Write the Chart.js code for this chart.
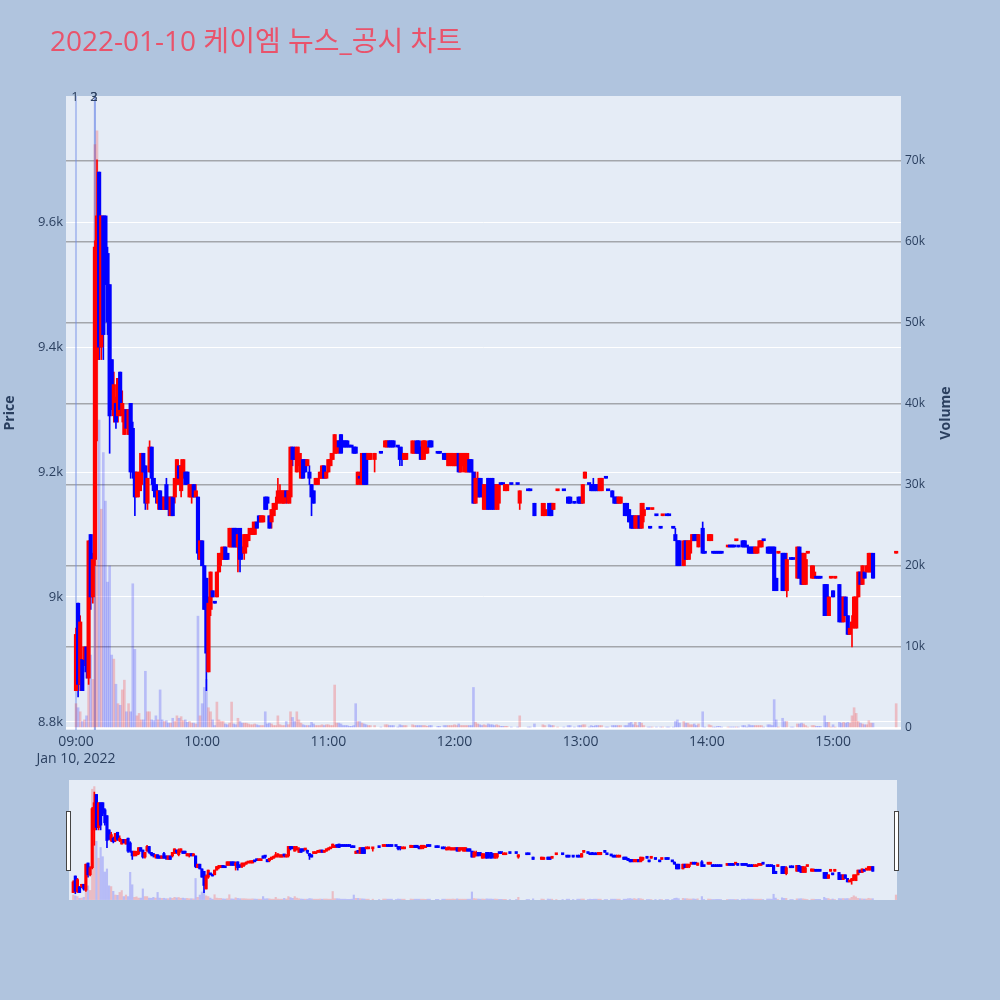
<!DOCTYPE html>
<html>
<head>
<meta charset="utf-8">
<script src="https://cdn.jsdelivr.net/npm/chart.js@4.4.1/dist/chart.umd.min.js"></script>
<style>
  body { margin: 0; background: #b0c4de; }
  #main { position: absolute; left: 0; top: 0; }
  #slider { position: absolute; left: 0; top: 780px; }
</style>
</head>
<body>
<canvas id="main" width="1000" height="780"></canvas>
<canvas id="slider" width="1000" height="120"></canvas>
<script>
// minutes since 09:00 that have a trade
const minutes = [
  0,1,2,3,4,5,6,7,8,9, 10,11,12,13,14,15,16,17,18,19,
  20,21,22,23,24,25,26,27,28,29, 30,31,32,33,34,35,36,37,38,39,
  40,41,42,43,44,45,46,47,48,49, 50,51,52,53,54,55,56,57,58,59,
  60,61,62,63,64,65,66,67,68,69, 70,71,72,73,74,75,76,77,78,79,
  80,81,82,83,84,85,86,87,88,89, 90,91,92,93,94,95,96,97,98,99,
  100,101,102,103,104,105,106,107,108,109, 110,111,112,113,114,115,116,117,118,119,
  120,121,122,123,124,125,126,127,128,129, 130,131,132,133,134,135,136,137,138,139,140,
  142,145,147,148,149,150,151,153,154,155, 156,157,160,161,162,163,164,165,166,167,
  168,169,172,173,175,176,177,178,179,180, 181,182,183,184,185,186,187,188,189,190,
  191,192,193,194,195,196,197,198,199,200, 201,202,203,204,205,207,210,211,215,216,
  218,222,223,225,226,227,229,232,234,235, 237,239,240,241,242,244,245,246,247,248,
  249,250,252,253,255,256,257,258,259,261, 262,263,264,265,266,267,268,269,270,
  272,273,274,276,278,279,281,282,284,285, 286,287,289,290,291,292,293,294,295,296,
  298,299,301,302,303,304,305,306,307,310, 311,312,313,314,315,317,318,319,320,321,
  322,323,324,325,326,327,329,330,331,332, 333,334,336,337,338,340,341,343,344,345,
  346,347,348,350,351,352,353,354,356,357, 358,359,360,361,363,364,365,366,367,368,
  369,370,371,372,373,374,375,376,377,378, 379,390
];
const opens = [
  8850,8990,8860,8900,8900,8920,8870,9100,9000,9060, 9380,9680,9400,9610,9610,9550,9500,9380,9290,9310,
  9290,9360,9290,9260,9300,9260,9310,9270,9200,9160, 9170,9180,9230,9210,9150,9200,9240,9190,9180,9150,
  9170,9160,9140,9180,9160,9130,9160,9160,9180,9210, 9170,9200,9200,9200,9160,9160,9180,9160,9160,9060,
  9090,9050,9030,8880,8980,9010,8990,9000,9040,9060, 9060,9080,9070,9080,9080,9110,9110,9080,9110,9080,
  9070,9080,9090,9100,9100,9100,9120,9130,9120,9120, 9160,9160,9130,9120,9130,9140,9150,9160,9150,9150,
  9170,9150,9160,9240,9230,9200,9210,9190,9220,9220, 9210,9200,9180,9170,9180,9180,9190,9190,9210,9190,
  9200,9210,9220,9230,9230,9250,9260,9250,9250,9250, 9240,9240,9240,9240,9180,9190,9180,9230,9230,9220,9220,
  9220,9230,9240,9240,9250,9250,9250,9240,9240,9230, 9220,9220,9230,9230,9250,9250,9240,9220,9230,9230,
  9250,9250,9230,9230,9230,9230,9210,9220,9210,9210, 9210,9230,9200,9210,9200,9200,9220,9220,9200,9150,
  9160,9190,9180,9140,9150,9190,9180,9190,9180,9140, 9150,9180,9180,9170,9170,9180,9180,9150,9170,9170,
  9150,9130,9130,9150,9150,9140,9170,9170,9160,9160, 9150,9160,9160,9150,9190,9180,9180,9180,9180,9180,
  9170,9170,9190,9170,9170,9160,9160,9150,9150,9150, 9150,9140,9130,9130,9110,9110,9130,9110,9130,
  9140,9110,9140,9130,9110,9130,9130,9130,9110,9100, 9090,9090,9050,9090,9060,9070,9090,9100,9100,9080,
  9110,9070,9090,9090,9070,9070,9070,9070,9070,9080, 9080,9080,9080,9090,9080,9090,9090,9080,9080,9080,
  9080,9070,9070,9080,9080,9090,9080,9080,9080,9080, 9030,9070,9070,9070,9010,9060,9060,9030,9080,9070,
  9020,9020,9070,9030,9030,9030,9030,9030,9020,9020, 8970,9030,9010,9030,9020,9000,8960,9000,8970,8940,
  8950,8960,8950,9000,9040,9020,9040,9040,9040,9040, 9070,9070
];
const highs = [
  8950,8990,8970,8900,8920,8920,9090,9100,9070,9570, 9700,9680,9610,9610,9610,9560,9500,9380,9360,9320,
  9350,9360,9330,9300,9300,9300,9310,9280,9200,9200, 9200,9230,9230,9210,9190,9250,9240,9190,9180,9170,
  9170,9160,9160,9190,9160,9160,9160,9190,9220,9210, 9220,9220,9200,9200,9180,9180,9180,9180,9160,9090,
  9090,9050,9030,9000,9040,9010,8990,9040,9070,9080, 9080,9080,9070,9110,9110,9110,9110,9110,9110,9080,
  9100,9100,9110,9110,9120,9120,9120,9130,9130,9130, 9160,9160,9130,9140,9150,9160,9190,9180,9170,9170,
  9170,9170,9240,9240,9240,9240,9240,9230,9220,9220, 9220,9210,9180,9170,9190,9190,9200,9210,9210,9200,
  9220,9230,9230,9260,9250,9250,9260,9250,9250,9250, 9240,9240,9240,9240,9200,9200,9230,9230,9230,9230,9230,
  9230,9230,9250,9250,9250,9250,9250,9240,9240,9240, 9230,9230,9250,9250,9250,9250,9240,9250,9250,9240,
  9250,9250,9230,9230,9230,9230,9230,9230,9230,9230, 9230,9230,9230,9230,9230,9230,9220,9220,9200,9200,
  9200,9190,9190,9180,9180,9190,9190,9190,9180,9180, 9180,9180,9180,9180,9180,9180,9180,9170,9170,9170,
  9150,9150,9150,9150,9150,9150,9170,9170,9160,9160, 9150,9160,9160,9180,9200,9180,9180,9190,9180,9180,
  9190,9190,9190,9170,9170,9160,9160,9160,9160,9150, 9150,9140,9130,9130,9130,9130,9130,9150,9150,
  9140,9110,9140,9130,9110,9130,9130,9130,9110,9110, 9090,9090,9090,9090,9090,9090,9100,9100,9100,9100,
  9120,9070,9100,9100,9070,9070,9070,9070,9070,9080, 9080,9080,9080,9090,9080,9090,9090,9080,9080,9080,
  9080,9080,9080,9090,9090,9090,9080,9080,9080,9080, 9030,9070,9070,9070,9070,9060,9060,9080,9080,9070,
  9070,9070,9070,9050,9050,9030,9030,9030,9020,9020, 9000,9030,9010,9030,9020,9000,9000,9000,8970,8950,
  8970,9000,9000,9040,9040,9050,9040,9050,9070,9070, 9070,9070
];
const lows = [
  8850,8840,8850,8850,8890,8870,8860,8980,8990,9050, 9250,9380,9380,9380,9500,9420,9230,9300,9280,9270,
  9280,9290,9280,9260,9270,9260,9190,9190,9130,9160, 9160,9170,9200,9140,9140,9200,9180,9160,9150,9140,
  9140,9140,9140,9140,9130,9130,9130,9150,9180,9180, 9160,9190,9180,9180,9160,9150,9160,9160,9060,9060,
  9050,8980,8850,8880,8970,9000,8990,9000,9040,9050, 9060,9060,9060,9080,9080,9080,9080,9040,9040,9060,
  9060,9070,9090,9100,9100,9100,9110,9120,9120,9120, 9140,9140,9110,9110,9130,9140,9150,9150,9150,9150,
  9150,9150,9150,9210,9220,9200,9210,9190,9190,9200, 9210,9180,9130,9150,9180,9180,9190,9190,9190,9190,
  9200,9210,9220,9230,9230,9230,9230,9240,9240,9240, 9240,9240,9230,9230,9180,9180,9180,9180,9180,9220,9220,
  9200,9230,9240,9240,9240,9240,9240,9240,9210,9210, 9220,9220,9230,9230,9230,9230,9220,9220,9220,9230,
  9240,9240,9230,9230,9220,9220,9210,9210,9210,9210, 9210,9200,9200,9210,9200,9200,9200,9200,9150,9150,
  9160,9160,9160,9140,9140,9140,9140,9140,9140,9140, 9140,9180,9180,9170,9170,9180,9180,9140,9170,9170,
  9130,9130,9130,9130,9130,9140,9170,9170,9150,9150, 9150,9150,9150,9150,9190,9180,9170,9170,9170,9170,
  9170,9170,9190,9170,9160,9150,9150,9150,9150,9130, 9130,9120,9110,9110,9110,9110,9110,9110,9120,
  9140,9110,9140,9130,9110,9130,9130,9130,9110,9090, 9050,9050,9050,9060,9060,9060,9090,9090,9090,9080,
  9070,9070,9090,9090,9070,9070,9070,9070,9070,9080, 9080,9080,9080,9090,9080,9080,9080,9080,9070,9070,
  9070,9070,9070,9080,9080,9090,9070,9070,9070,9010, 9010,9070,9010,9010,9000,9060,9060,9030,9030,9020,
  9020,9020,9070,9030,9030,9030,9030,9030,8970,8970, 8970,9030,9000,9030,8960,8960,8960,8970,8940,8940,
  8920,8950,8950,9000,9020,9020,9030,9040,9040,9040, 9030,9070
];
const closes = [
  8940,8860,8960,8850,8920,8880,9090,9000,9060,9560, 9610,9400,9610,9420,9520,9440,9290,9300,9340,9280,
  9350,9300,9310,9300,9270,9300,9200,9200,9160,9200, 9190,9230,9200,9150,9190,9240,9190,9170,9160,9170,
  9140,9140,9160,9140,9140,9160,9130,9190,9220,9190, 9210,9220,9180,9180,9180,9170,9160,9170,9070,9090,
  9050,8980,8910,8990,9040,9000,8990,9040,9070,9070, 9080,9060,9060,9110,9110,9080,9080,9100,9060,9070,
  9100,9100,9100,9110,9110,9120,9110,9120,9130,9130, 9140,9150,9110,9140,9150,9150,9170,9170,9170,9170,
  9160,9170,9240,9220,9220,9240,9230,9220,9190,9200, 9220,9190,9160,9150,9190,9190,9200,9210,9190,9200,
  9220,9220,9230,9260,9250,9240,9230,9240,9240,9240, 9240,9240,9230,9230,9200,9190,9230,9180,9180,9230,9230,
  9230,9230,9250,9250,9240,9240,9240,9240,9220,9220, 9230,9230,9250,9240,9230,9230,9220,9250,9250,9240,
  9240,9240,9230,9230,9220,9220,9230,9230,9230,9220, 9230,9200,9230,9230,9230,9230,9200,9200,9150,9190,
  9190,9160,9170,9180,9170,9140,9150,9140,9150,9180, 9180,9180,9180,9180,9180,9180,9180,9170,9170,9170,
  9130,9150,9140,9130,9130,9150,9170,9170,9150,9150, 9150,9150,9150,9180,9200,9180,9170,9170,9170,9170,
  9190,9190,9190,9170,9160,9150,9150,9160,9160,9130, 9130,9120,9110,9110,9130,9130,9110,9150,9140,
  9140,9110,9140,9130,9110,9130,9130,9130,9110,9090, 9050,9050,9090,9060,9090,9090,9100,9090,9090,9100,
  9070,9070,9100,9100,9070,9070,9070,9070,9070,9080, 9080,9080,9080,9090,9080,9080,9080,9080,9070,9070,
  9070,9080,9080,9090,9090,9090,9070,9070,9070,9010, 9010,9070,9010,9010,9060,9060,9060,9080,9030,9020,
  9070,9060,9070,9050,9040,9030,9030,9030,8970,8970, 9000,9030,9000,9030,8960,8960,9000,8970,8940,8950,
  8960,9000,9000,9040,9020,9050,9030,9050,9070,9070, 9030,9070
];
const volumes = [
  3000,2500,2000,800,1000,1500,14000,9000,6000,72000, 73700,38000,27000,34000,28000,18000,20000,9000,8500,5400,
  3000,2800,4700,5900,2000,3000,2000,17800,9700,1500, 1800,1000,1000,7000,2000,2000,1000,900,1500,1000,
  4700,1000,800,900,600,600,1200,800,1500,1200, 1400,900,1000,700,800,600,600,500,13800,1500,
  3000,5000,6000,2500,2000,1000,300,3200,1000,800, 800,500,400,600,3200,500,400,1200,800,600,
  600,600,500,400,400,500,400,300,300,300, 2000,500,600,500,300,300,1500,400,300,300,
  800,400,2000,1300,800,2000,1000,600,400,300, 300,300,700,500,300,300,300,400,300,400,
  400,300,300,5300,600,600,500,300,300,300, 200,200,300,3000,800,800,600,500,400,300,300,
  300,100,400,400,300,300,300,100,400,300, 300,300,400,300,300,300,300,300,300,200,
  300,300,200,200,300,300,300,300,300,400, 300,500,300,300,300,300,300,300,5000,700,
  500,400,300,400,300,500,400,400,300,400, 300,200,200,200,200,100,100,1500,100,100,
  500,400,300,400,300,300,100,100,300,300, 100,300,300,400,400,100,300,200,300,300,
  300,300,100,100,300,300,300,300,300,300, 300,600,700,400,700,300,700,600,300,
  100,100,100,100,100,100,100,100,100,800, 1000,600,800,600,600,400,400,500,300,500,
  2000,100,400,300,100,100,200,200,100,100, 100,100,100,100,100,300,300,100,400,300,
  300,300,300,300,300,100,400,400,300,3500, 1000,100,1200,800,800,100,100,500,500,600,
  500,300,100,300,300,200,200,200,1500,700, 700,100,400,100,700,600,700,600,700,600,
  1500,2500,1800,800,600,500,400,400,900,600, 600,3000
];

const hourTicks = [0, 60, 120, 180, 240, 300, 360];
const hourLabels = ['09:00', '10:00', '11:00', '12:00', '13:00', '14:00', '15:00'];
const dateLabel = 'Jan 10, 2022';
const priceTicks = [8800, 9000, 9200, 9400, 9600];
const priceLabels = ['8.8k', '9k', '9.2k', '9.4k', '9.6k'];
const volTicks = [0, 10000, 20000, 30000, 40000, 50000, 60000, 70000];
const volLabels = ['0', '10k', '20k', '30k', '40k', '50k', '60k', '70k'];
const eventMinutes = [0, 9, 9];
const eventLabels = ['1', '2', '3'];
const titleText = '2022-01-10 케이엠 뉴스_공시 차트';

const UP = '#ff0000', DOWN = '#0000ff';
const UP_VOL = 'rgba(255,0,0,0.2)', DOWN_VOL = 'rgba(0,0,255,0.2)';
const TXT = '#2a3f5f';
const FONT = "'Open Sans', 'Noto Sans CJK KR', sans-serif";

// 시가=종가 인 봉은 직전 종가와 비교해서 색을 정함
const isUp = closes.map((c, i) => c > opens[i] || (c === opens[i] && i > 0 && c > closes[i - 1]));

function buildSets(bodyW, wickW, volW) {
  return [
    {
      data: minutes.map((m, i) => ({ x: m, y: [Math.min(opens[i], closes[i]), Math.max(opens[i], closes[i])] })),
      backgroundColor: minutes.map((m, i) => isUp[i] ? UP : DOWN),
      barThickness: bodyW, minBarLength: 2, grouped: false, yAxisID: 'y', order: 0
    },
    {
      data: minutes.map((m, i) => ({ x: m, y: [lows[i], highs[i]] })),
      backgroundColor: minutes.map((m, i) => isUp[i] ? UP : DOWN),
      barThickness: wickW, grouped: false, yAxisID: 'y', order: 1
    },
    {
      data: minutes.map((m, i) => ({ x: m, y: volumes[i] })),
      backgroundColor: minutes.map((m, i) => isUp[i] ? UP_VOL : DOWN_VOL),
      barThickness: volW, grouped: false, yAxisID: 'yVol', order: 2
    }
  ];
}

const plotBg = {
  id: 'plotBg',
  beforeDraw(chart) {
    const { ctx, chartArea: a } = chart;
    ctx.save();
    ctx.fillStyle = '#e5ecf6';
    ctx.fillRect(a.left, a.top, a.right - a.left, a.bottom - a.top);
    ctx.restore();
  }
};

const titleAndVolume = {
  id: 'titleAndVolume',
  afterDraw(chart) {
    const { ctx, chartArea: a } = chart;
    ctx.save();
    ctx.fillStyle = '#e9536b';
    ctx.font = '28px ' + FONT;
    ctx.textBaseline = 'alphabetic';
    ctx.textAlign = 'left';
    ctx.fillText(titleText, 50, 51);
    // 오른쪽 축 제목 (아래에서 위로)
    const s = chart.scales.yVol;
    ctx.translate(s.right - 10, (a.top + a.bottom) / 2);
    ctx.rotate(-Math.PI / 2);
    ctx.fillStyle = TXT;
    ctx.font = 'bold 14px ' + FONT;
    ctx.textAlign = 'center';
    ctx.textBaseline = 'middle';
    ctx.fillText('Volume', 0, 0);
    ctx.restore();
  }
};

const eventLines = {
  id: 'eventLines',
  beforeDatasetsDraw(chart) {
    const { ctx, chartArea: a, scales } = chart;
    ctx.save();
    ctx.strokeStyle = 'rgba(110,140,230,0.45)';
    ctx.lineWidth = 2;
    eventMinutes.forEach(m => {
      const x = scales.x.getPixelForValue(m);
      ctx.beginPath();
      ctx.moveTo(x, a.top);
      ctx.lineTo(x, a.bottom);
      ctx.stroke();
    });
    ctx.restore();
  },
  afterDatasetsDraw(chart) {
    const { ctx, chartArea: a, scales } = chart;
    ctx.save();
    ctx.fillStyle = TXT;
    ctx.font = '13px ' + FONT;
    ctx.textAlign = 'center';
    ctx.textBaseline = 'middle';
    eventMinutes.forEach((m, i) => {
      ctx.fillText(eventLabels[i], scales.x.getPixelForValue(m) - 1, a.top + 1);
    });
    ctx.restore();
  }
};

const handles = {
  id: 'handles',
  afterDraw(chart) {
    const { ctx, chartArea: a } = chart;
    ctx.save();
    ctx.fillStyle = '#ffffff';
    ctx.strokeStyle = '#444444';
    ctx.lineWidth = 1;
    [a.left - 2.5, a.right - 2.5].forEach(x => {
      ctx.fillRect(x, a.top + 31.5, 4, 59);
      ctx.strokeRect(x, a.top + 31.5, 4, 59);
    });
    ctx.restore();
  }
};

new Chart(document.getElementById('main'), {
  type: 'bar',
  data: { datasets: buildSets(3.5, 1, 2) },
  options: {
    responsive: false,
    animation: false,
    devicePixelRatio: 1,
    events: [],
    layout: { padding: { top: 96, right: 44, bottom: 10, left: 0 } },
    plugins: { legend: { display: false }, tooltip: { enabled: false } },
    scales: {
      x: {
        type: 'linear', min: -4.75, max: 392.3, offset: false,
        grid: { display: false, drawTicks: false },
        border: { display: false },
        afterBuildTicks: s => { s.ticks = hourTicks.map(v => ({ value: v })); },
        afterFit: s => { s.height = 40; },
        ticks: {
          color: TXT, font: { family: FONT, size: 14 }, padding: 4, maxRotation: 0,
          callback: (v, i) => i === 0 ? [hourLabels[i], dateLabel] : hourLabels[i]
        }
      },
      y: {
        position: 'left', min: 8787, max: 9802,
        grid: { color: '#ffffff', lineWidth: 1, drawTicks: false },
        border: { display: false },
        afterBuildTicks: s => { s.ticks = priceTicks.map(v => ({ value: v })); },
        afterFit: s => { s.width = 66; },
        ticks: {
          color: TXT, font: { family: FONT, size: 13 }, padding: 3,
          callback: (v, i) => priceLabels[i]
        },
        title: { display: true, text: 'Price', color: TXT, font: { family: FONT, size: 14, weight: 'bold' }, padding: { top: 2, bottom: 0 } }
      },
      yVol: {
        position: 'right', min: -250, max: 78000,
        grid: {
          drawTicks: false,
          color: c => c.tick && c.tick.value === 0 ? '#ffffff' : '#a3a6ab',
          lineWidth: c => c.tick && c.tick.value === 0 ? 2 : 1.5
        },
        border: { display: false },
        afterBuildTicks: s => { s.ticks = volTicks.map(v => ({ value: v })); },
        afterFit: s => { s.width = 55; },
        ticks: {
          color: TXT, font: { family: FONT, size: 12 }, padding: 4,
          callback: (v, i) => volLabels[i]
        }
      }
    }
  },
  plugins: [plotBg, eventLines, titleAndVolume]
});

new Chart(document.getElementById('slider'), {
  type: 'bar',
  data: { datasets: buildSets(2.5, 1, 1.5) },
  options: {
    responsive: false,
    animation: false,
    devicePixelRatio: 1,
    events: [],
    layout: { padding: { top: 0, right: 103, bottom: 0, left: 69 } },
    plugins: { legend: { display: false }, tooltip: { enabled: false } },
    scales: {
      x: { type: 'linear', min: -2, max: 390.5, offset: false, display: false },
      y: { min: 8787, max: 9802, display: false },
      yVol: { position: 'right', min: -250, max: 78000, display: false }
    }
  },
  plugins: [plotBg, handles]
});
</script>
</body>
</html>
